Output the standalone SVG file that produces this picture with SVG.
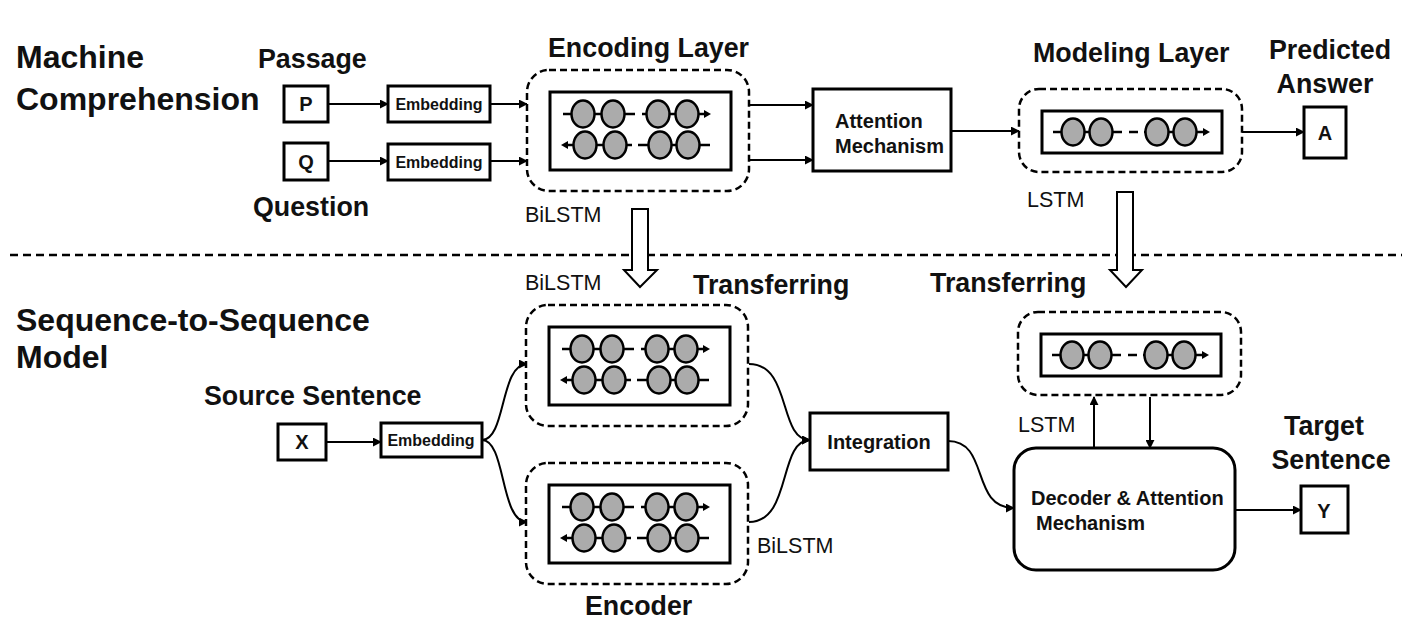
<svg xmlns="http://www.w3.org/2000/svg" xmlns:xlink="http://www.w3.org/1999/xlink" width="1402" height="634" viewBox="0 0 1402 634">
<style>
text{font-family:"Liberation Sans",Arial,sans-serif;fill:#111}
.h1{font-size:32px;font-weight:bold}
.h2{font-size:26.8px;font-weight:bold}
.lab{font-size:20px;font-weight:bold}
.emb{font-size:16px;font-weight:bold}
.sm{font-size:21.5px}
.box{fill:#fff;stroke:#000;stroke-width:3}
.dash{fill:#fff;stroke:#000;stroke-width:2.5;stroke-dasharray:7 4}
.cell{fill:#ababab;stroke:#000;stroke-width:2.5}
.ln{stroke:#000;stroke-width:2.5;fill:none}
.con{stroke:#000;stroke-width:2;fill:none;marker-end:url(#ah)}
.tri{fill:#000}
.hollow{fill:#fff;stroke:#000;stroke-width:2}
</style>
<defs>
<marker id="ah" viewBox="0 0 10 10" refX="9" refY="5" markerWidth="4.5" markerHeight="4.5" orient="auto" markerUnits="strokeWidth">
<path d="M0,0 L10,5 L0,10 z" fill="#000"/>
</marker>
<g id="bilstm">
<rect class="dash" x="-23" y="-22" width="222" height="121" rx="22"/>
<rect class="box" x="0" y="0" width="181" height="78"/>
<line class="ln" x1="13" y1="22" x2="85" y2="22"/>
<line class="ln" x1="92" y1="22" x2="154" y2="22"/>
<polygon class="tri" points="154,18 161,22 154,26"/>
<ellipse class="cell" cx="33" cy="22" rx="11.5" ry="13.5"/>
<ellipse class="cell" cx="63" cy="22" rx="11.5" ry="13.5"/>
<ellipse class="cell" cx="108" cy="22" rx="11.5" ry="13.5"/>
<ellipse class="cell" cx="137" cy="22" rx="11.5" ry="13.5"/>
<line class="ln" x1="18" y1="53" x2="82" y2="53"/>
<line class="ln" x1="88" y1="53" x2="160" y2="53"/>
<polygon class="tri" points="18,49 11,53 18,57"/>
<ellipse class="cell" cx="35" cy="53" rx="11.5" ry="13.5"/>
<ellipse class="cell" cx="65" cy="53" rx="11.5" ry="13.5"/>
<ellipse class="cell" cx="110" cy="53" rx="11.5" ry="13.5"/>
<ellipse class="cell" cx="138" cy="53" rx="11.5" ry="13.5"/>
</g>
<g id="lstm">
<rect class="dash" x="-23" y="-22" width="223" height="83" rx="20"/>
<rect class="box" x="0" y="0" width="180" height="42"/>
<line class="ln" x1="11" y1="21" x2="80" y2="21"/>
<line class="ln" x1="87" y1="21" x2="96" y2="21"/>
<line class="ln" x1="102" y1="21" x2="162" y2="21"/>
<polygon class="tri" points="161,17 168,21 161,25"/>
<ellipse class="cell" cx="31" cy="21" rx="11.5" ry="13.5"/>
<ellipse class="cell" cx="59" cy="21" rx="11.5" ry="13.5"/>
<ellipse class="cell" cx="115" cy="21" rx="11.5" ry="13.5"/>
<ellipse class="cell" cx="143" cy="21" rx="11.5" ry="13.5"/>
</g>
</defs>
<rect width="1402" height="634" fill="#fff"/>

<!-- section separator -->
<line x1="10" y1="255" x2="1402" y2="255" stroke="#000" stroke-width="2.5" stroke-dasharray="8 5"/>

<!-- section labels -->
<text class="h1" x="16" y="68">Machine</text>
<text class="h1" x="16" y="110">Comprehension</text>
<text class="h1" x="16" y="331">Sequence-to-Sequence</text>
<text class="h1" x="16" y="368">Model</text>

<!-- connectors -->
<g id="connectors">
<line class="con" x1="329" y1="104" x2="388" y2="104"/>
<line class="con" x1="329" y1="161" x2="388" y2="161"/>
<line class="con" x1="490" y1="104" x2="527" y2="104"/>
<line class="con" x1="490" y1="161" x2="527" y2="161"/>
<line class="con" x1="750" y1="105" x2="813" y2="105"/>
<line class="con" x1="750" y1="160" x2="813" y2="160"/>
<line class="con" x1="951" y1="131" x2="1019" y2="131"/>
<line class="con" x1="1242" y1="132" x2="1304" y2="132"/>
<line class="con" x1="326" y1="442" x2="381" y2="442"/>
<path class="con" d="M482,440 C506,440 500,364 527,364"/>
<path class="con" d="M482,440 C506,440 500,522 527,522"/>
<path class="con" d="M749,364 C792,364 778,440 810,440"/>
<path class="con" d="M749,522 C792,522 778,440 810,440"/>
<path class="con" d="M948,441 C990,441 970,508 1014,508"/>
<line class="con" x1="1235" y1="510" x2="1301" y2="510"/>
<line class="con" x1="1094" y1="448" x2="1094" y2="397"/>
<line class="con" x1="1150" y1="397" x2="1150" y2="448"/>
<polygon class="hollow" points="632,209 648,209 648,270 657,270 640,287 624,270 632,270"/>
<polygon class="hollow" points="1117,192 1133,192 1133,270 1142,270 1126,287 1110,270 1117,270"/>
</g>

<!-- Machine comprehension nodes -->
<g id="passage-label"><text class="h2" x="258" y="68">Passage</text></g>
<g id="node-P"><rect class="box" x="284" y="86" width="44" height="36"/><text class="lab" x="306" y="111" text-anchor="middle">P</text></g>
<g id="node-Q"><rect class="box" x="284" y="143" width="44" height="37"/><text class="lab" x="306" y="169" text-anchor="middle">Q</text></g>
<g id="question-label"><text class="h2" x="253" y="216">Question</text></g>
<g id="emb-P"><rect class="box" x="388" y="86" width="102" height="36"/><text class="emb" x="439" y="110" text-anchor="middle">Embedding</text></g>
<g id="emb-Q"><rect class="box" x="388" y="144" width="102" height="36"/><text class="emb" x="439" y="168" text-anchor="middle">Embedding</text></g>
<g id="encoding-layer">
<text class="h2" x="548" y="57">Encoding Layer</text>
<use xlink:href="#bilstm" href="#bilstm" transform="translate(550,92)"/>
<text class="sm" x="525" y="222">BiLSTM</text>
</g>
<g id="attention"><rect class="box" x="813" y="89" width="138" height="82"/>
<text class="lab" x="835" y="128">Attention</text><text class="lab" x="835" y="153">Mechanism</text></g>
<g id="modeling-layer">
<text class="h2" x="1033" y="62">Modeling Layer</text>
<use xlink:href="#lstm" href="#lstm" transform="translate(1042,111)"/>
<text class="sm" x="1027" y="207">LSTM</text>
</g>
<g id="node-A">
<text class="h2" x="1330" y="59" text-anchor="middle">Predicted</text>
<text class="h2" x="1325" y="93" text-anchor="middle">Answer</text>
<rect class="box" x="1304" y="107" width="42" height="51"/><text class="lab" x="1325" y="140" text-anchor="middle">A</text>
</g>

<!-- Seq2seq nodes -->
<g id="source">
<text class="h2" x="204" y="405">Source Sentence</text>
<rect class="box" x="278" y="424" width="48" height="36"/><text class="lab" x="302" y="449" text-anchor="middle">X</text>
</g>
<g id="emb-X"><rect class="box" x="381" y="423" width="101" height="34"/><text class="emb" x="431" y="446" text-anchor="middle">Embedding</text></g>
<g id="encoder-top">
<text class="sm" x="525" y="290">BiLSTM</text>
<text class="h2" x="693" y="294">Transferring</text>
<use xlink:href="#bilstm" href="#bilstm" transform="translate(549,327)"/>
</g>
<g id="encoder-bottom">
<use xlink:href="#bilstm" href="#bilstm" transform="translate(549,485)"/>
<text class="sm" x="757" y="553">BiLSTM</text>
<text class="h2" x="585" y="615">Encoder</text>
</g>
<g id="integration"><rect class="box" x="810" y="413" width="138" height="57"/><text class="lab" x="879" y="449" text-anchor="middle">Integration</text></g>
<g id="decoder-lstm">
<text class="h2" x="930" y="292">Transferring</text>
<use xlink:href="#lstm" href="#lstm" transform="translate(1041,334)"/>
<text class="sm" x="1018" y="432">LSTM</text>
</g>
<g id="decoder"><rect class="box" x="1014" y="448" width="221" height="122" rx="22"/>
<text class="lab" x="1031" y="505">Decoder &amp; Attention</text><text class="lab" x="1036" y="530">Mechanism</text></g>
<g id="node-Y">
<text class="h2" x="1324" y="435" text-anchor="middle">Target</text>
<text class="h2" x="1331" y="469" text-anchor="middle">Sentence</text>
<rect class="box" x="1301" y="486" width="47" height="47"/><text class="lab" x="1324" y="518" text-anchor="middle">Y</text>
</g>
</svg>
